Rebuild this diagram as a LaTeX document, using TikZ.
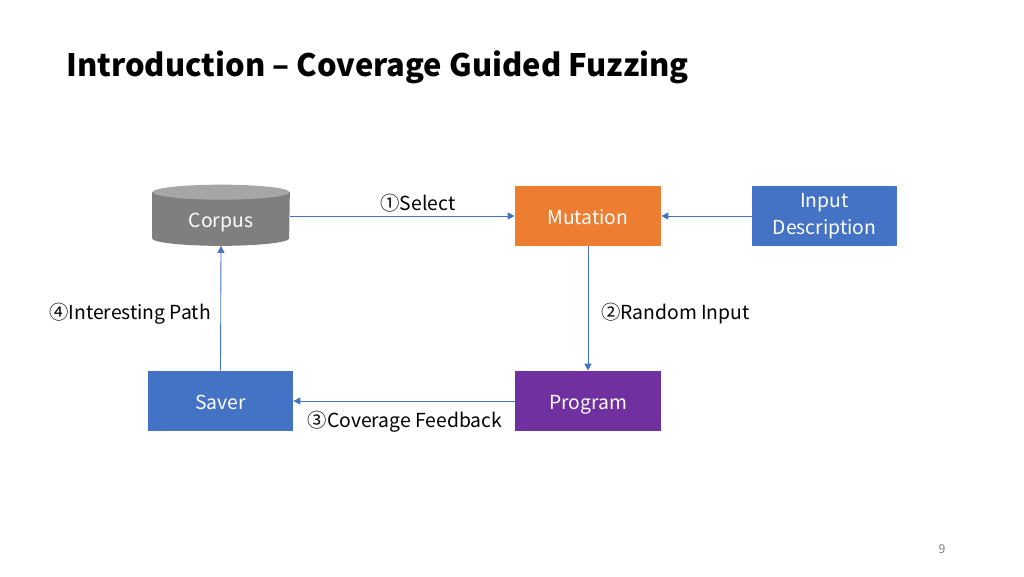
\documentclass[tikz,border=0pt]{standalone}
\usepackage{fontspec}
\setmainfont{Noto Sans CJK SC}
\usetikzlibrary{arrows.meta}
\definecolor{arrowblue}{HTML}{4472C4}
\definecolor{mutorange}{HTML}{ED7D31}
\definecolor{progpurple}{HTML}{7030A0}
\definecolor{dbgray}{HTML}{7F7F7F}
\definecolor{dbtop}{HTML}{A6A6A6}
\tikzset{
  box/.style={rectangle,text=white,minimum width=2.92cm,minimum height=1.2cm,
    align=center,inner sep=2pt,font=\fontsize{11}{14}\selectfont},
  oneline/.style={text height=1.95ex,text depth=0.25ex},
  flow/.style={->,draw=arrowblue,line width=0.5pt},
  steplabel/.style={font=\fontsize{11}{14}\selectfont,inner sep=1pt,oneline}
}
\begin{document}
\begin{tikzpicture}[>={Triangle[length=4pt,width=4pt]},x=0.02cm,y=-0.02cm]
  \useasboundingbox (0,0) rectangle (1024,576);
  \def\rx{1.37cm} % half width of the database
  \def\ry{0.15cm} % half height of its top
  % title
  \node[anchor=west,font=\fontsize{17.6}{22}\selectfont\bfseries,inner sep=0pt] (title) at (66,67)
    {Introduction -- Coverage Guided Fuzzing};
  % the database
  \node[box,oneline,minimum width=2.74cm,minimum height=1.06cm] (corpus) at (221,219) {};
  \fill[dbgray] (corpus.north west) -- ([yshift=\ry]corpus.south west)
    arc[start angle=180,end angle=360,x radius=\rx,y radius=\ry] -- (corpus.north east) -- cycle;
  \fill[dbtop] (corpus.north) ellipse[x radius=\rx,y radius=\ry];
  \node[box,oneline,minimum width=2.74cm,minimum height=1.06cm] (corpuslabel) at (corpus) {Corpus};
  % the boxes
  \node[box,oneline,fill=mutorange] (mut) at (588,216) {Mutation};
  \node[box,fill=arrowblue,minimum width=2.9cm,font=\fontsize{11}{15}\selectfont] (desc) at (824.5,216)
    {Input\\Description};
  \node[box,oneline,fill=progpurple] (prog) at (588,401) {Program};
  \node[box,oneline,fill=arrowblue,minimum width=2.9cm] (saver) at (220.5,401) {Saver};
  % connectors
  \draw[flow] (corpus.east|-mut.west) -- (mut.west);
  \draw[flow] (desc.west|-mut.east) -- (mut.east);
  \draw[flow] (mut.south) -- (prog.north);
  \draw[flow] (prog.west) -- (saver.east);
  \draw[flow] (saver.north) -- (corpus.south);
  % step labels
  \node[steplabel] (sel) at (418,202) {①Select};
  \node[steplabel,anchor=west] (rnd) at (599,311) {②Random Input};
  \node[steplabel] (cov) at (405,419) {③Coverage Feedback};
  \node[steplabel,anchor=east] (path) at (213,311) {④Interesting Path};
  % page number
  \node[text=gray,font=\fontsize{7}{8}\selectfont] (page) at (942,549) {9};
\end{tikzpicture}
\end{document}
